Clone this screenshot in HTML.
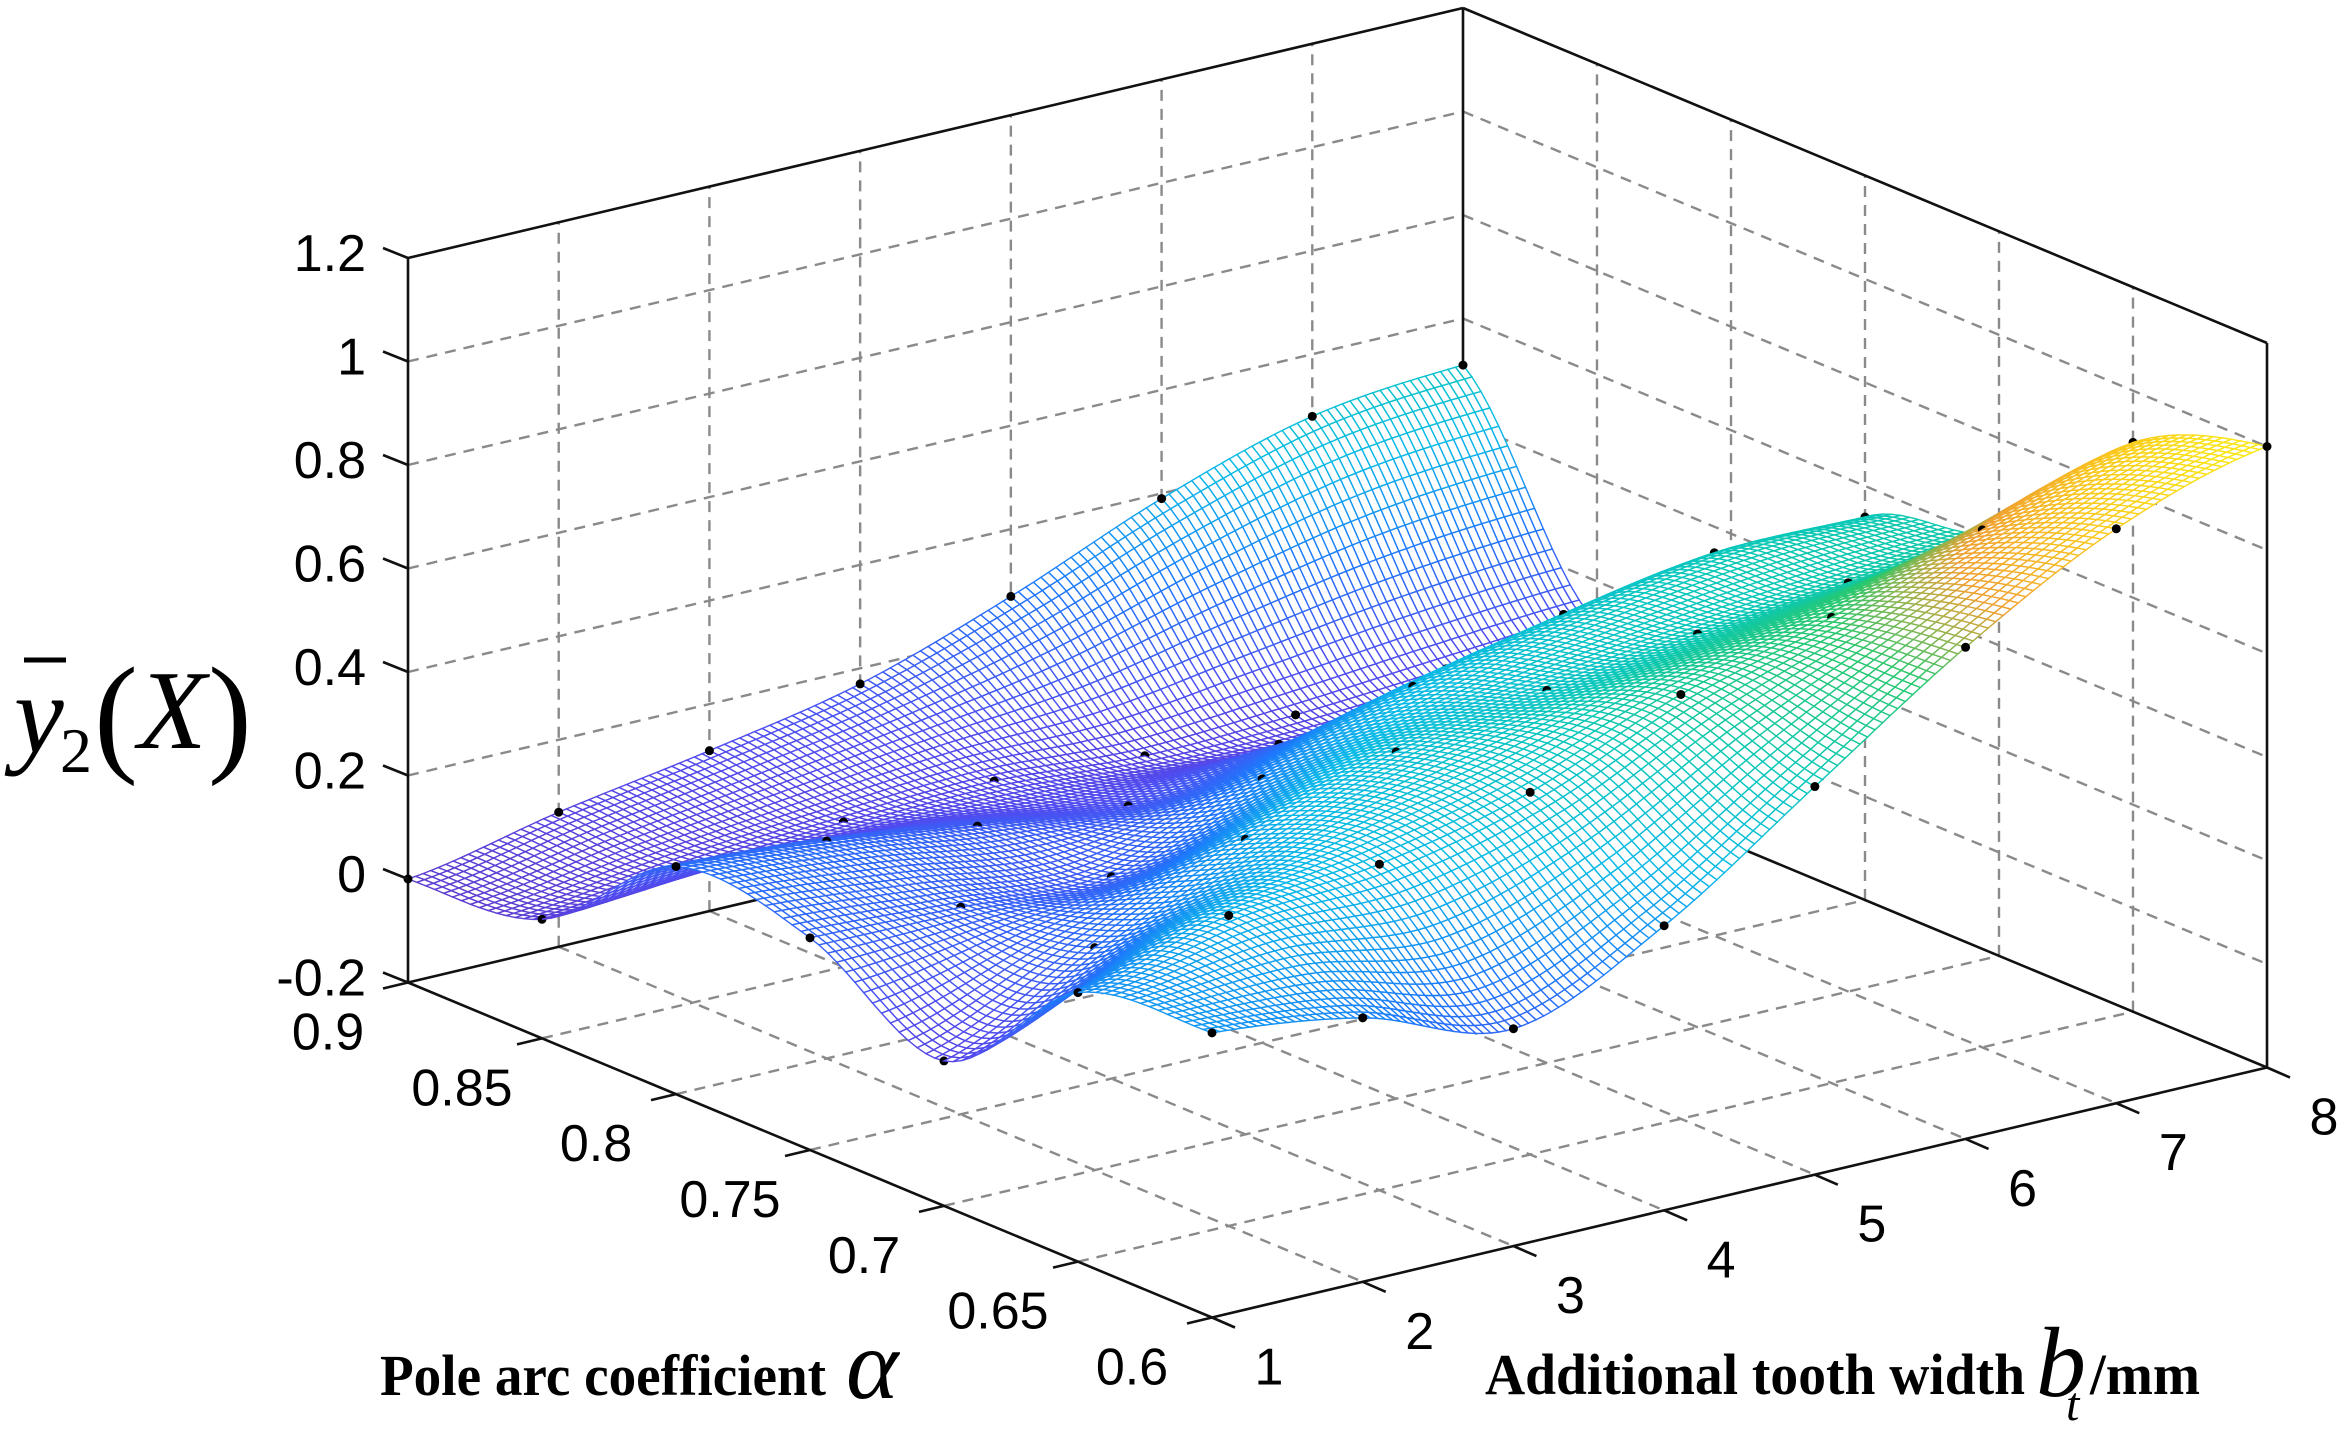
<!DOCTYPE html>
<html><head><meta charset="utf-8"><style>
html,body{margin:0;padding:0;background:#fff}
svg{display:block}
text{font-family:"Liberation Sans",Arial,sans-serif;fill:#000}
.serif{font-family:"Liberation Serif","Times New Roman",serif}
</style></head><body>
<svg id="chart" width="2350" height="1437" viewBox="0 0 2350 1437" xmlns="http://www.w3.org/2000/svg">
<g id="walls"></g>
<g id="surf"></g>
<g id="axes"></g>
<g class="serif">
<text x="14" y="752" font-size="112" font-style="italic" class="serif">y</text>
<line x1="24" y1="660" x2="66" y2="660" stroke="#000" stroke-width="5"/>
<text x="60" y="772" font-size="64" class="serif">2</text>
<text x="94" y="758" font-size="132" class="serif">(</text>
<text x="138" y="748" font-size="112" font-style="italic" class="serif">X</text>
<text x="208" y="758" font-size="132" class="serif">)</text>
</g>
<g>
<text x="380" y="1395" font-size="58" font-weight="bold" class="serif" textLength="446" lengthAdjust="spacingAndGlyphs">Pole arc coefficient</text>
<text x="846" y="1398" font-size="100" font-style="italic" class="serif">α</text>
</g>
<g>
<text x="1485" y="1394" font-size="58" font-weight="bold" class="serif" textLength="540" lengthAdjust="spacingAndGlyphs">Additional tooth width</text>
<text x="2036" y="1396" font-size="100" font-style="italic" class="serif">b</text>
<text x="2066" y="1420" font-size="48" font-style="italic" class="serif">t</text>
<text x="2090" y="1394" font-size="58" font-weight="bold" class="serif" textLength="110" lengthAdjust="spacingAndGlyphs">/mm</text>
</g>
</svg>
<script>
const alphaTicks=[0.9,0.85,0.8,0.75,0.7,0.65,0.6];
const alphaLabels=["0.9","0.85","0.8","0.75","0.7","0.65","0.6"];
const btTicks=[1,2,3,4,5,6,7,8];
const btLabels=["1","2","3","4","5","6","7","8"];
const zTicks=[-0.2,0,0.2,0.4,0.6,0.8,1,1.2];
const zLabels=["-0.2","0","0.2","0.4","0.6","0.8","1","1.2"];
// sample values: rows alpha 0.9 -> 0.6, columns bt 1 -> 8
const zA090=[0.00,0.06,0.11,0.17,0.27,0.39,0.48,0.51];
const zA085=[0.03,0.06,0.08,0.09,0.07,0.08,0.10,0.12];
const zA080=[0.24,0.22,0.18,0.15,0.20,0.20,0.22,0.24];
const zA075=[0.21,0.20,0.19,0.31,0.42,0.49,0.54,0.54];
const zA070=[0.08,0.23,0.37,0.47,0.52,0.56,0.59,0.62];
const zA065=[0.32,0.40,0.43,0.50,0.62,0.70,0.80,0.90];
const zA060=[0.35,0.31,0.22,0.35,0.55,0.75,0.91,1.00];
const Z=[zA090,zA085,zA080,zA075,zA070,zA065,zA060];

const NS="http://www.w3.org/2000/svg";
const O=[408,982.5],AV=[804,335],BV=[1055,-250],ZS=517.5;
const aMin=0.6,aMax=0.9,bMin=1,bMax=8,zMin=-0.2,zMax=1.2;
function proj(al,bt,z){const at=(aMax-al)/(aMax-aMin),b=(bt-bMin)/(bMax-bMin);
 return [O[0]+AV[0]*at+BV[0]*b, O[1]+AV[1]*at+BV[1]*b-ZS*(z-zMin)];}
function depth(al,bt,z){const at=(aMax-al)/(aMax-aMin),b=(bt-bMin)/(bMax-bMin);return 1055*at-804*b+1071*z;}
function mk(tag,attrs,parent){const e=document.createElementNS(NS,tag);for(const k in attrs)e.setAttribute(k,attrs[k]);parent.appendChild(e);return e;}
const walls=document.getElementById('walls'),axes=document.getElementById('axes'),surf=document.getElementById('surf');
function line(p,q,par,style,name){const e=mk('line',{x1:p[0],y1:p[1],x2:q[0],y2:q[1]},par);
 if(style==='grid'){e.setAttribute('stroke','#8a8a8a');e.setAttribute('stroke-width','2.4');e.setAttribute('stroke-dasharray','11 8');}
 else{e.setAttribute('stroke','#111');e.setAttribute('stroke-width','2.6');}
 
 return e;}
btTicks.slice(1,-1).forEach(b=>{line(proj(aMax,b,zMin),proj(aMax,b,zMax),walls,'grid','back-wall-gridline');
 line(proj(aMax,b,zMin),proj(aMin,b,zMin),walls,'grid','floor-gridline');});
alphaTicks.slice(1,-1).forEach(a=>{line(proj(a,bMax,zMin),proj(a,bMax,zMax),walls,'grid','side-wall-gridline');
 line(proj(a,bMin,zMin),proj(a,bMax,zMin),walls,'grid','floor-gridline');});
zTicks.slice(1,-1).forEach(z=>{line(proj(aMax,bMin,z),proj(aMax,bMax,z),walls,'grid','back-wall-gridline');
 line(proj(aMax,bMax,z),proj(aMin,bMax,z),walls,'grid','side-wall-gridline');});
[[[aMax,bMin,zMin],[aMax,bMin,zMax]],[[aMax,bMin,zMax],[aMax,bMax,zMax]],[[aMax,bMax,zMax],[aMax,bMax,zMin]],
 [[aMax,bMax,zMax],[aMin,bMax,zMax]],[[aMin,bMax,zMax],[aMin,bMax,zMin]],[[aMax,bMin,zMin],[aMax,bMax,zMin]],
 [[aMax,bMax,zMin],[aMin,bMax,zMin]]].forEach(s=>line(proj(...s[0]),proj(...s[1]),walls,'box','box-edge'));
line(proj(aMax,bMin,zMin),proj(aMin,bMin,zMin),axes,'box','alpha-axis');
line(proj(aMin,bMin,zMin),proj(aMin,bMax,zMin),axes,'box','bt-axis');
function txt(x,y,s,anchor,size,name){const t=mk('text',{x:x,y:y,'font-size':size,'text-anchor':anchor,'dominant-baseline':'central'},axes);t.textContent=s;
 
 return t;}
zTicks.forEach((z,i)=>{const p=proj(aMax,bMin,z);line(p,[p[0]-25,p[1]-10],axes,'box','z-tick');txt(p[0]-42,p[1]-4,zLabels[i],'end',52,'z-tick-label');});
alphaTicks.forEach((a,i)=>{const p=proj(a,bMin,zMin);line(p,[p[0]-25,p[1]+6],axes,'box','alpha-tick');txt(p[0]-80,p[1]+50,alphaLabels[i],'middle',52,'alpha-tick-label');});
btTicks.forEach((b,i)=>{const p=proj(aMin,b,zMin);line(p,[p[0]+23,p[1]+10],axes,'box','bt-tick');txt(p[0]+57,p[1]+50,btLabels[i],'middle',52,'bt-tick-label');});
function cr(p0,p1,p2,p3,t){return 0.5*((2*p1)+(-p0+p2)*t+(2*p0-5*p1+4*p2-p3)*t*t+(-p0+3*p1-3*p2+p3)*t*t*t);}
const NR=Z.length,NC=Z[0].length;
function g(r,c){r=Math.max(0,Math.min(NR-1,r));c=Math.max(0,Math.min(NC-1,c));return Z[r][c];}
function interp(u,v){let r=Math.min(Math.floor(u),NR-2),c=Math.min(Math.floor(v),NC-2);const tu=u-r,tv=v-c;const rows=[];
 for(let i=-1;i<=2;i++)rows.push(cr(g(r+i,c-1),g(r+i,c),g(r+i,c+1),g(r+i,c+2),tv));return cr(rows[0],rows[1],rows[2],rows[3],tu);}
const cStops=[[-0.05,[100,55,195]],[0.12,[80,76,240]],[0.28,[30,120,252]],[0.42,[10,185,232]],[0.56,[10,200,185]],[0.7,[40,200,110]],[0.8,[240,160,48]],[0.9,[250,200,30]],[1.02,[250,240,20]]];
function col(z){if(z<=cStops[0][0])return 'rgb('+cStops[0][1]+')';for(let i=1;i<cStops.length;i++){if(z<=cStops[i][0]){const t=(z-cStops[i-1][0])/(cStops[i][0]-cStops[i-1][0]);const a=cStops[i-1][1],b=cStops[i][1];
 return 'rgb('+[0,1,2].map(k=>Math.round(a[k]+(b[k]-a[k])*t)).join(',')+')';}}return 'rgb('+cStops[cStops.length-1][1]+')';}
const NU=90,NV=140,items=[];
function alOf(u){return alphaTicks[0]+(alphaTicks[NR-1]-alphaTicks[0])*u/(NR-1);}
function btOf(v){return btTicks[0]+(btTicks[NC-1]-btTicks[0])*v/(NC-1);}
const grid=[];
for(let i=0;i<=NU;i++){const row=[];const u=i/NU*(NR-1);for(let k=0;k<=NV;k++){const v=k/NV*(NC-1);const z=interp(u,v);const al=alOf(u),bt=btOf(v);row.push({p:proj(al,bt,z),z:z,al:al,bt:bt});}grid.push(row);}
for(let i=0;i<NU;i++)for(let k=0;k<NV;k++){const q=[grid[i][k],grid[i+1][k],grid[i+1][k+1],grid[i][k+1]];
 const zm=(q[0].z+q[1].z+q[2].z+q[3].z)/4,am=(q[0].al+q[2].al)/2,bm=(q[0].bt+q[2].bt)/2;
 items.push({t:0,d:depth(am,bm,zm),q:q,z:zm});}
Z.forEach((row,r)=>row.forEach((z,c)=>{const al=alphaTicks[r],bt=btTicks[c];items.push({t:1,d:depth(al,bt,z)+8,p:proj(al,bt,z)});}));
items.sort((a,b)=>a.d-b.d);
const frag=document.createDocumentFragment();
items.forEach(it=>{let e;
 if(it.t===0){e=document.createElementNS(NS,'path');const q=it.q;
  e.setAttribute('d','M'+q.map(o=>o.p[0].toFixed(1)+','+o.p[1].toFixed(1)).join('L')+'Z');
  e.setAttribute('fill','#fff');e.setAttribute('stroke',col(it.z));e.setAttribute('stroke-width','1.4');
  
  }
 else{e=document.createElementNS(NS,'circle');e.setAttribute('cx',it.p[0]);e.setAttribute('cy',it.p[1]);e.setAttribute('r','4.5');e.setAttribute('fill','#000');
  
  }
 frag.appendChild(e);});
surf.appendChild(frag);
</script>
</body></html>
